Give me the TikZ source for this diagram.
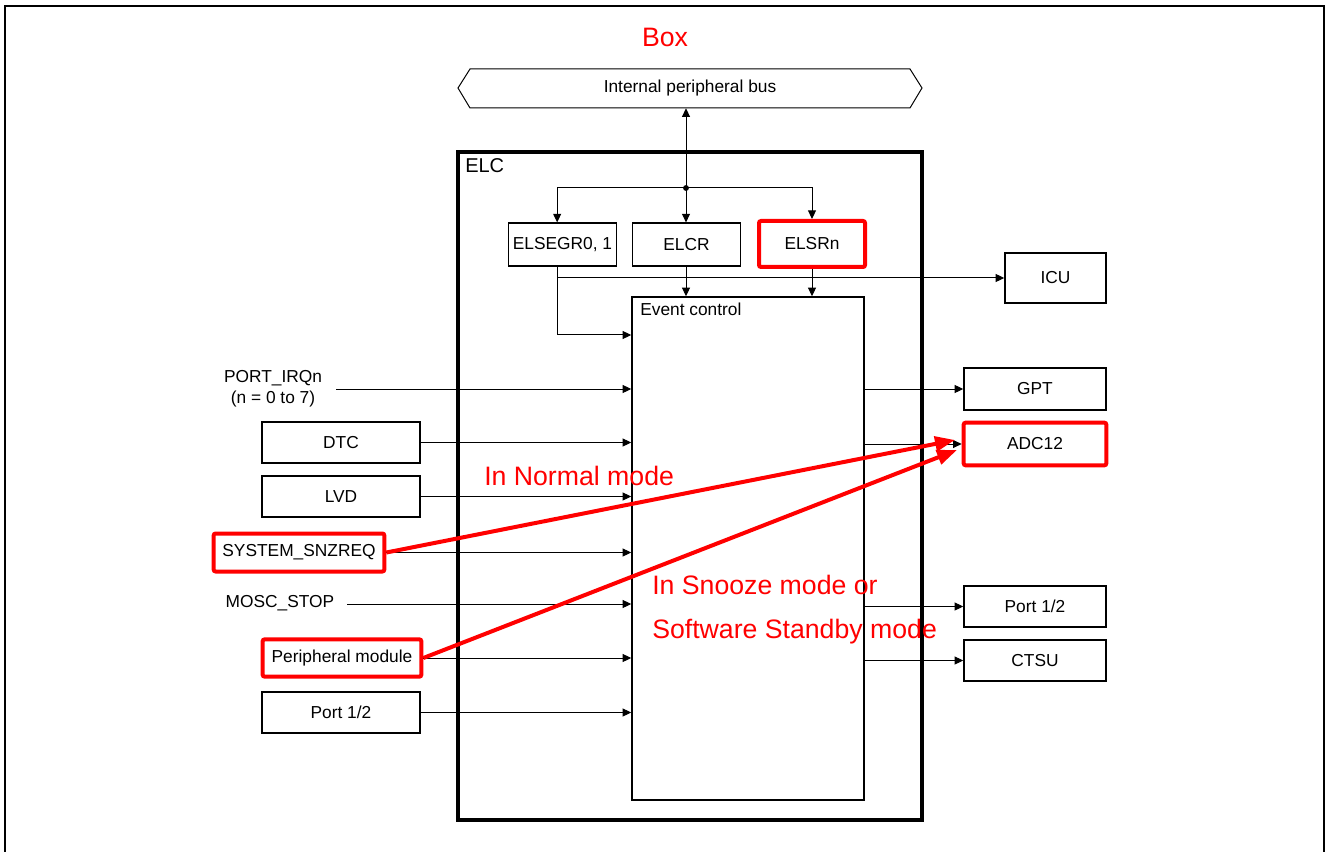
\documentclass[tikz,border=0pt]{standalone}
\usepackage{fontspec}
\setmainfont{Liberation Sans}
\usetikzlibrary{arrows.meta}
\definecolor{hl}{RGB}{255,0,0}
\tikzset{
  blk/.style={draw=black, line width=1.1pt, fill=white, inner sep=0pt,
    font=\fontsize{13}{15}\selectfont},
  hlbox/.style={blk, draw=hl, line width=3pt, rounded corners=1.5pt},
  lbl/.style={inner sep=0pt, font=\fontsize{13}{15}\selectfont},
  arr/.style={line width=0.75pt, -{Triangle[length=6.5pt,width=6pt]}},
  hlarr/.style={draw=hl, line width=3pt, -{Triangle[length=15pt,width=11pt]}},
  note/.style={text=hl, inner sep=0pt, font=\fontsize{20}{24}\selectfont},
}
\begin{document}
\begin{tikzpicture}[x=0.75pt, y=-0.75pt]
\useasboundingbox (0,0) rectangle (1328,852);
% outer frame, open at the bottom
\draw[line width=1.5pt] (5,852) -- (5,6) -- (1324,6) -- (1324,852);
\node[note] (title) at (665,37) {Box};

% internal peripheral bus
\draw[line width=0.75pt] (458,88) -- (470,69) -- (910,69) -- (922,88) -- (910,108) -- (470,108) -- cycle;
\node[lbl, minimum width=339pt, minimum height=29.25pt] (bus) at (690,88.5) {Internal peripheral bus};

% ELC block
\node[draw, line width=3pt, minimum width=348pt, minimum height=501pt] (elc) at (690,486) {};
\node[lbl, anchor=north west, font=\fontsize{15}{17}\selectfont] (elclbl) at (465,158) {ELC};

% registers
\node[blk, minimum width=81pt, minimum height=32pt] (elsegr) at (562.5,244.5) {ELSEGR0, 1};
\node[blk, minimum width=81pt, minimum height=32pt] (elcr) at (686.5,244.5) {ELCR};
\node[hlbox, minimum width=79.5pt, minimum height=34.5pt] (elsrn) at (812,244) {ELSRn};
\coordinate (segtop) at ([xshift=-4pt]elsegr.north);
\coordinate (segbot) at ([xshift=-4pt]elsegr.south);

% event control
\node[blk, minimum width=174pt, minimum height=377.25pt] (ec) at (748,548.5) {};
\node[lbl, anchor=north west] (eclbl) at (640,303) {Event control};

% bus junction and register fan-out
\coordinate (junc) at (686,188);
\draw[arr] (junc) -- (junc |- bus.south);
\fill (junc) circle (2.2pt);
\draw[arr] (junc) -| (segtop);
\draw[arr] (junc) -- (junc |- elcr.north);
\draw[arr] (junc) -| (elsrn.north);

% ICU
\node[blk, minimum width=75.75pt, minimum height=37.5pt] (icu) at (1055.5,278) {ICU};
\draw[arr] (segbot) |- (ec.west |- 0,335);
\draw[arr] (segbot |- icu.west) -- (icu.west);
\draw[arr] (junc |- elcr.south) -- (junc |- ec.north);
\draw[arr] (elsrn.south) -- (elsrn.south |- ec.north);

% event sources
\node[lbl, align=center] (irq) at (273,388.5) {PORT\_IRQn\\[1pt](n = 0 to 7)};
\coordinate (irqin) at (336,389);
\draw[arr] (irqin) -- (irqin -| ec.west);
\node[blk, minimum width=118.5pt, minimum height=30.75pt] (dtc) at (341,442.5) {DTC};
\draw[arr] (dtc.east) -- (dtc.east -| ec.west);
\node[blk, minimum width=118.5pt, minimum height=30.75pt] (lvd) at (341,496.5) {LVD};
\draw[arr] (lvd.east) -- (lvd.east -| ec.west);
\node[hlbox, minimum width=128pt, minimum height=28.5pt] (snz) at (299,552.5) {SYSTEM\_SNZREQ};
\draw[arr] (snz.east) -- (snz.east -| ec.west);
\node[lbl] (mosc) at (280,603) {MOSC\_STOP};
\coordinate (moscin) at (347,604);
\draw[arr] (moscin) -- (moscin -| ec.west);
\node[hlbox, minimum width=119pt, minimum height=28pt] (periph) at (342,658) {Peripheral module};
\draw[arr] (periph.east) -- (periph.east -| ec.west);
\node[blk, minimum width=118.5pt, minimum height=30.75pt] (portin) at (341,712.5) {Port 1/2};
\draw[arr] (portin.east) -- (portin.east -| ec.west);

% event destinations
\node[blk, minimum width=106.5pt, minimum height=31.5pt] (gpt) at (1035,389) {GPT};
\draw[arr] (gpt.west -| ec.east) -- (gpt.west);
\node[hlbox, minimum width=107pt, minimum height=32pt] (adc) at (1035,444) {ADC12};
\draw[arr] (adc.west -| ec.east) -- (adc.west);
\node[blk, minimum width=106.5pt, minimum height=30.75pt] (portout) at (1035,606.5) {Port 1/2};
\draw[arr] (portout.west -| ec.east) -- (portout.west);
\node[blk, minimum width=106.5pt, minimum height=30.75pt] (ctsu) at (1035,660.5) {CTSU};
\draw[arr] (ctsu.west -| ec.east) -- (ctsu.west);

% annotated wake-up paths
\draw[hlarr] (snz.east) -- ([xshift=-5pt, yshift=3pt]adc.west);
\draw[hlarr] (periph.east) -- ([xshift=-3.5pt, yshift=-4.5pt]adc.west);
\node[note, anchor=west] (normal) at (484,476) {In Normal mode};
\node[note, anchor=west] (snooze) at (652,585) {In Snooze mode or};
\node[note, anchor=west] (standby) at (652,632) {Software Standby mode};
\end{tikzpicture}
\end{document}
